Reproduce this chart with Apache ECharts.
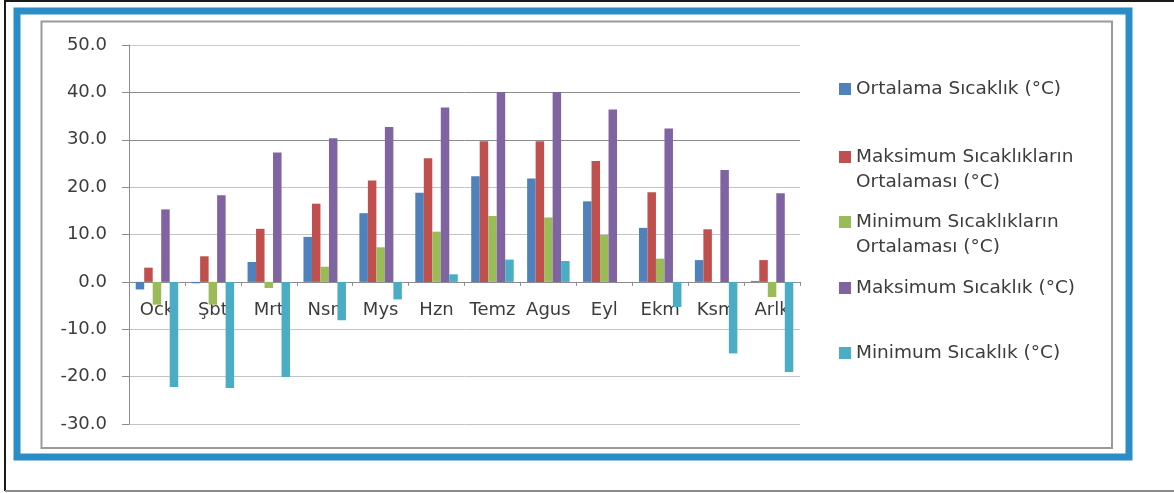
<!DOCTYPE html>
<html>
<head>
<meta charset="utf-8">
<script src="https://cdn.jsdelivr.net/npm/echarts@6/dist/echarts.min.js"></script>
<style>
  html, body { margin: 0; padding: 0; background: #ffffff; }
  #chart { width: 1174px; height: 493px; }
</style>
</head>
<body>
<div id="chart"></div>
<script>
// Monthly temperature statistics (°C)
const months = ['Ock', 'Şbt', 'Mrt', 'Nsn', 'Mys', 'Hzn', 'Temz', 'Agus', 'Eyl', 'Ekm', 'Ksm', 'Arlk'];

const seriesNames = [
  'Ortalama Sıcaklık (°C)',
  'Maksimum Sıcaklıkların Ortalaması (°C)',
  'Minimum Sıcaklıkların Ortalaması (°C)',
  'Maksimum Sıcaklık (°C)',
  'Minimum Sıcaklık (°C)'
];

// legend text, split over lines
const legendLines = [
  ['Ortalama Sıcaklık (°C)'],
  ['Maksimum Sıcaklıkların', 'Ortalaması (°C)'],
  ['Minimum Sıcaklıkların', 'Ortalaması (°C)'],
  ['Maksimum Sıcaklık (°C)'],
  ['Minimum Sıcaklık (°C)']
];

const meanTemp    = [-1.6, -0.3, 4.2, 9.5, 14.5, 18.8, 22.3, 21.8, 17.0, 11.4, 4.6, 0.2];
const meanMaxTemp = [3.0, 5.4, 11.2, 16.5, 21.4, 26.1, 29.7, 29.7, 25.5, 18.9, 11.1, 4.6];
const meanMinTemp = [-4.8, -4.8, -1.3, 3.2, 7.3, 10.6, 13.9, 13.6, 9.9, 4.9, 0.0, -3.2];
const maxTemp     = [15.3, 18.3, 27.3, 30.3, 32.7, 36.8, 40.1, 40.1, 36.4, 32.4, 23.6, 18.7];
const minTemp     = [-22.2, -22.4, -20.1, -8.1, -3.7, 1.6, 4.7, 4.4, 0.0, -5.3, -15.1, -19.0];

const yTicks = { min: -30, max: 50, interval: 10 };

const values = [meanTemp, meanMaxTemp, meanMinTemp, maxTemp, minTemp];
const colors = ['#4f81bd', '#c0504d', '#9bbb59', '#8064a2', '#4bacc6'];

const font = 'DejaVu Sans';
const textColor = '#3c3c3c';

const gridBox = { left: 129, top: 45, width: 671, height: 379 };
// the category axis sits on the zero line of the value axis
const zeroOffset = -gridBox.height * (0 - yTicks.min) / (yTicks.max - yTicks.min);

// icon centre heights of the legend entries
const legendCentres = [89, 157, 222, 288, 353];
const lineH = 25;

const legends = seriesNames.map((name, i) => {
  const lines = legendLines[i];
  // a blank first line keeps the icon level with the first text line
  const text = lines.length > 1 ? ' \n' + lines.join('\n') : lines[0];
  const blockH = lines.length > 1 ? lineH * 3 : lineH;
  return {
    data: [name],
    orient: 'vertical',
    left: 839,
    top: legendCentres[i] - blockH / 2,
    padding: 0,
    itemWidth: 12,
    itemHeight: 12,
    icon: 'rect',
    selectedMode: false,
    formatter: () => text,
    textStyle: { fontFamily: font, fontSize: 18.5, color: textColor, lineHeight: lineH }
  };
});

const chart = echarts.init(document.getElementById('chart'), null, { renderer: 'canvas' });

chart.setOption({
  animation: false,
  backgroundColor: '#ffffff',
  color: colors,
  graphic: [
    // outer page edge
    { type: 'polyline', shape: { points: [[1174, 1], [5, 1], [5, 491]] },
      style: { stroke: '#1a1a1a', lineWidth: 2, fill: null } },
    { type: 'line', shape: { x1: 5, y1: 491, x2: 1174, y2: 491 },
      style: { stroke: '#8a8a8a', lineWidth: 2 } },
    // blue frame
    { type: 'rect', shape: { x: 17, y: 11, width: 1112, height: 446 },
      style: { stroke: '#2a8dc5', lineWidth: 7, fill: null } },
    // chart area border
    { type: 'rect', shape: { x: 41.5, y: 21.5, width: 1070.5, height: 426.5 },
      style: { stroke: '#9a9a9a', lineWidth: 2, fill: null } }
  ],
  legend: legends,
  grid: Object.assign({ containLabel: false }, gridBox),
  xAxis: {
    type: 'category',
    data: months,
    position: 'bottom',
    offset: zeroOffset,
    axisLine: { onZero: false, lineStyle: { color: '#8c8c8c', width: 1 } },
    axisTick: { show: true, inside: false, length: 4, lineStyle: { color: '#8c8c8c' } },
    axisLabel: { fontFamily: font, fontSize: 18, color: textColor, margin: 19, interval: 0 }
  },
  yAxis: {
    type: 'value',
    min: yTicks.min,
    max: yTicks.max,
    interval: yTicks.interval,
    axisLine: { show: true, lineStyle: { color: '#8c8c8c', width: 1 } },
    axisTick: { show: true, length: 7, lineStyle: { color: '#8c8c8c' } },
    axisLabel: {
      fontFamily: font, fontSize: 18, color: textColor, margin: 22,
      formatter: v => v.toFixed(1)
    },
    splitLine: {
      show: true,
      lineStyle: {
        width: 1,
        color: ['#c4c4c4', '#c4c4c4', '#c4c4c4', '#9a9a9a', '#c4c4c4', '#c4c4c4', '#8c8c8c', '#8c8c8c', '#cfcfcf']
      }
    }
  },
  series: seriesNames.map((name, i) => ({
    name: name,
    type: 'bar',
    data: values[i],
    barGap: '0%',
    barCategoryGap: '24%',
    itemStyle: { color: colors[i] }
  }))
});
</script>
</body>
</html>
